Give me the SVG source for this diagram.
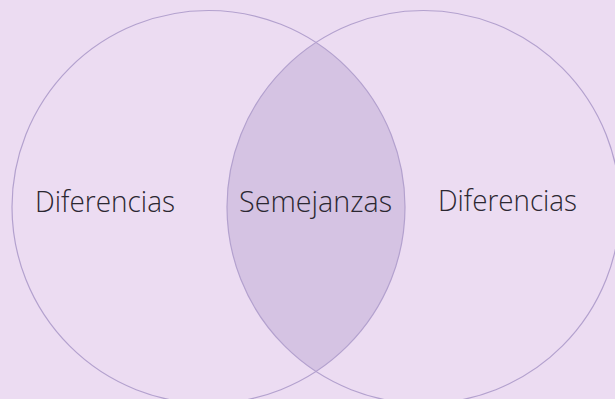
<svg xmlns="http://www.w3.org/2000/svg" width="615" height="399" viewBox="0 0 615 399">
<style>
.ring{fill:none;stroke:#b3a1ce;stroke-width:1.2}
.lbl{font-family:"Open Sans","Noto Sans","Liberation Sans",sans-serif;font-size:30px;font-weight:300;fill:#2b2731}
</style>
<rect x="0" y="0" width="615" height="399" fill="#ecdcf2"/>
<g id="interseccion">
<path d="M316,42.5 A196.5,196.5 0 0,1 316,371.5 A196.5,196.5 0 0,1 316,42.5 Z" fill="#d5c3e3"/>
<text class="lbl" x="239" y="212" textLength="153" lengthAdjust="spacingAndGlyphs">Semejanzas</text>
</g>
<g id="circulo-izq">
<circle class="ring" cx="208.5" cy="207" r="196.5"/>
<text class="lbl" x="35" y="212" textLength="140" lengthAdjust="spacingAndGlyphs">Diferencias</text>
</g>
<g id="circulo-der">
<circle class="ring" cx="423.5" cy="207" r="196.5"/>
<text class="lbl" x="438" y="211" textLength="139" lengthAdjust="spacingAndGlyphs">Diferencias</text>
</g>
<g id="conectores"/>
</svg>
